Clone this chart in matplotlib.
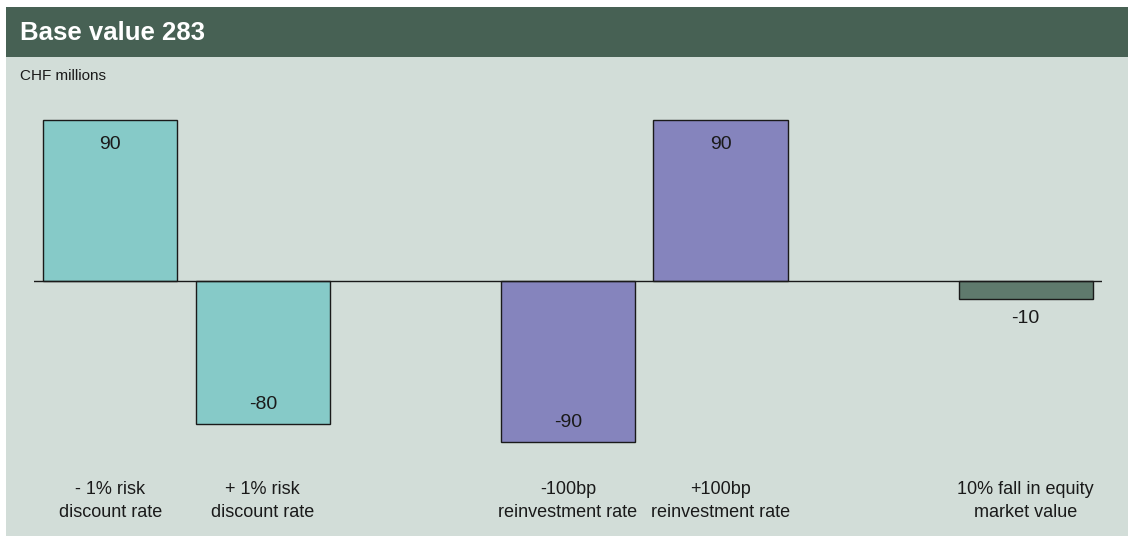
import matplotlib.pyplot as plt
from matplotlib.patches import Rectangle

# Sensitivities, CHF millions
categories = ["- 1% risk\ndiscount rate", "+ 1% risk\ndiscount rate",
              "-100bp\nreinvestment rate", "+100bp\nreinvestment rate",
              "10% fall in equity\nmarket value"]
slots = [0, 1, 3, 4, 6]
values = [90, -80, -90, 90, -10]
colors = ["#86cac8", "#86cac8", "#8584bd", "#8584bd", "#5f7a6d"]

title = "Base value 283"
unit = "CHF millions"

plt.rcParams['font.family'] = ['Liberation Sans', 'DejaVu Sans']

fig = plt.figure(figsize=(11.28, 5.36), dpi=100)
fig.patch.set_facecolor("white")

W, H = 1128, 536
# panel background and header band
fig.patches.append(Rectangle((6 / W, 0), 1 - 6 / W, 1 - 7 / H, transform=fig.transFigure,
                             facecolor="#d2ddd8", edgecolor="none", zorder=0))
fig.patches.append(Rectangle((6 / W, 1 - 57 / H), 1 - 6 / W, 50 / H, transform=fig.transFigure,
                             facecolor="#476154", edgecolor="none", zorder=1))
fig.text(20 / W, 1 - 33 / H, title, color="white", fontsize=18.5, fontweight="bold",
         va="center", ha="left", zorder=2)
fig.text(20 / W, 1 - 76 / H, unit, color="#1a1a1a", fontsize=11, va="center", ha="left", zorder=2)

# axes: x 34..1102 px, y 102..460 px (ylim -100..100, zero at 281)
ax = fig.add_axes([34 / W, 1 - 460 / H, 1068 / W, 358 / H])
ax.set_zorder(5)
ax.set_facecolor("none")
ax.bar(slots, values, width=0.88, color=colors, edgecolor="#1a1a1a", linewidth=1, zorder=2)
ax.axhline(0, color="#1a1a1a", linewidth=1, zorder=3)
ax.set_xlim(-0.5, 6.5)
ax.set_ylim(-100, 100)
ax.axis("off")

for s, v in zip(slots, values):
    if v >= 50:
        off = -18
    elif v <= -50:
        off = 14
    else:
        off = -14
    ax.annotate(str(v), (s, v), xytext=(0, off), textcoords="offset points",
                ha="center", va="center", fontsize=14, color="#1a1a1a")

# category labels below the plot, centred on each bar
for s, c in zip(slots, categories):
    x_fig = (34 + (s + 0.5) * 1068 / 7) / W
    fig.text(x_fig, 1 - 501 / H, c, ha="center", va="center",
             fontsize=13, color="#1a1a1a", linespacing=1.45, zorder=6)

fig.savefig("out.png", dpi=100)
